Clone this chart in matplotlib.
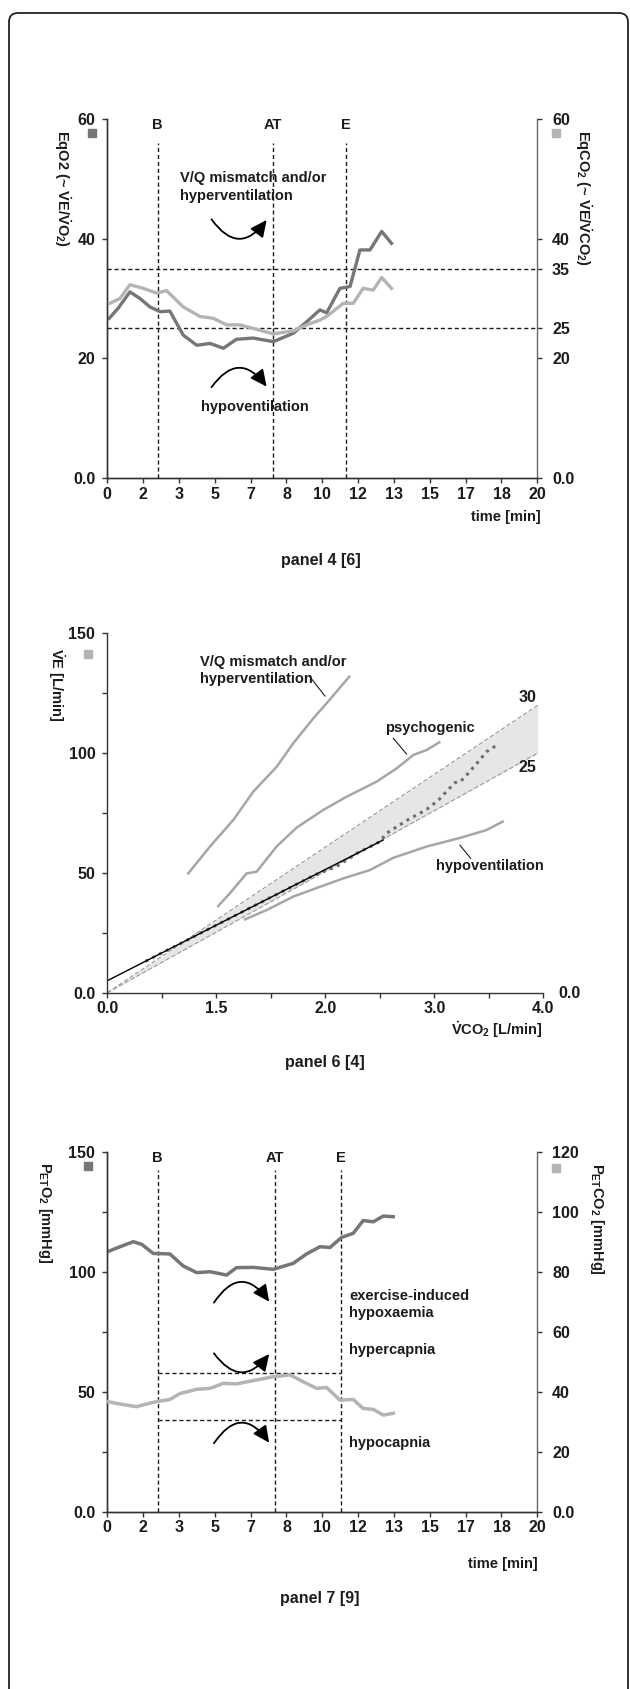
import numpy as np
import matplotlib
matplotlib.use("Agg")
import matplotlib.pyplot as plt
from matplotlib.patches import FancyArrowPatch, FancyBboxPatch
from matplotlib.transforms import IdentityTransform

W, H = 630, 1689
DARK = '#767676'
LIGHT = '#b4b4b4'
BAND = '#e6e6e6'
INK = '#1c1c1c'

NARROW = ['Liberation Sans Narrow', 'Liberation Sans', 'DejaVu Sans']
WIDE = ['Liberation Sans', 'DejaVu Sans']
plt.rcParams['font.family'] = WIDE
plt.rcParams['font.weight'] = 'bold'
plt.rcParams['mathtext.default'] = 'regular'
plt.rcParams['axes.linewidth'] = 1.0
plt.rcParams['axes.edgecolor'] = '#333333'
for k in ['xtick', 'ytick']:
    plt.rcParams[k + '.major.size'] = 3.6
    plt.rcParams[k + '.minor.size'] = 3.6
    plt.rcParams[k + '.major.width'] = 1.0
    plt.rcParams[k + '.minor.width'] = 1.0
    plt.rcParams[k + '.labelsize'] = 11.5
    plt.rcParams[k + '.color'] = '#333333'
    plt.rcParams[k + '.labelcolor'] = INK

# shared time axis
time_ticks = np.linspace(0, 20, 13)
time_labels = ['0', '2', '3', '5', '7', '8', '10', '12', '13', '15', '17', '18', '20']
phase_names = ['B', 'AT', 'E']

# panel 4 [6]: EqO2 / EqCO2 over time
phase_t4 = [2.34, 7.72, 11.09]
t_eqo2 = [0.09, 0.51, 1.05, 1.52, 1.98, 2.45, 2.91, 3.53, 4.16, 4.78, 5.40, 6.01,
          6.79, 7.72, 8.65, 9.27, 9.89, 10.20, 10.82, 11.29, 11.75, 12.22, 12.76, 13.22]
eqo2 = [26.7, 28.4, 31.1, 30.0, 28.6, 27.8, 27.9, 23.9, 22.2, 22.5, 21.7, 23.2,
        23.4, 22.8, 24.2, 26.1, 28.1, 27.6, 31.7, 32.0, 38.1, 38.1, 41.2, 39.2]
t_eqco2 = [0.12, 0.59, 1.05, 1.67, 2.29, 2.76, 3.53, 4.31, 4.93, 5.55, 6.17, 7.10,
           7.72, 8.65, 9.27, 9.89, 10.20, 10.98, 11.44, 11.90, 12.37, 12.76, 13.22]
eqco2 = [29.2, 30.0, 32.3, 31.7, 30.9, 31.3, 28.6, 27.0, 26.7, 25.6, 25.6, 24.7,
         24.1, 24.6, 25.6, 26.4, 27.0, 29.2, 29.2, 31.7, 31.4, 33.5, 31.7]
eq_limits = [35, 25]

# panel 6 [4]: VE vs VCO2
band_x = [0.0, 3.95]
band_hi = [0.0, 120.0]
band_lo = [0.0, 100.0]
reg_x = [0.0, 2.53]
reg_y = [5.0, 63.7]
vco2_pt = [0.35, 0.50, 0.70, 0.90, 1.10, 1.30, 1.50, 1.70, 1.90, 2.10, 2.30, 2.50,
           2.56, 2.78, 2.84, 2.93, 3.04, 3.11, 3.19, 3.24, 3.31, 3.39, 3.48, 3.59]
ve_pt = [13.1, 16.6, 21.2, 25.9, 30.5, 35.2, 39.8, 44.4, 49.1, 52.6, 58.4, 63.0,
         66.5, 72.8, 74.2, 76.5, 80.4, 83.9, 87.7, 88.1, 91.5, 95.7, 100.6, 103.8]
vco2_hyper = [0.743, 0.942, 1.156, 1.339, 1.554, 1.706, 1.890, 2.012, 2.220]
ve_hyper = [49.8, 61.0, 72.1, 83.9, 94.3, 104.1, 114.5, 120.8, 131.9]
vco2_psych = [1.018, 1.125, 1.278, 1.370, 1.553, 1.737, 1.982, 2.196, 2.471, 2.654, 2.807, 2.930, 3.046]
ve_psych = [36.2, 41.5, 49.8, 50.5, 61.0, 68.9, 76.3, 81.8, 88.1, 93.6, 99.2, 101.3, 104.5]
vco2_hypo = [1.263, 1.462, 1.706, 1.951, 2.165, 2.410, 2.624, 2.930, 3.236, 3.480, 3.627]
ve_hypo = [30.6, 34.5, 40.1, 44.2, 47.7, 51.2, 56.3, 61.0, 64.6, 67.9, 71.4]

# panel 7 [9]: PETO2 / PETCO2 over time
phase_t7 = [2.34, 7.80, 10.87]
t_peto2 = [0.0, 0.59, 1.21, 1.60, 2.14, 2.91, 3.53, 4.16, 4.78, 5.55, 6.01, 6.79,
           7.72, 8.65, 9.27, 9.89, 10.36, 10.90, 11.44, 11.90, 12.37, 12.84, 13.30]
peto2 = [108.3, 110.4, 112.5, 111.4, 107.6, 107.4, 102.4, 99.6, 100.0, 98.6, 101.7, 101.8,
         101.0, 103.5, 107.4, 110.4, 110.1, 114.3, 116.0, 121.3, 120.8, 123.2, 122.9]
t_petco2 = [0.0, 0.59, 1.36, 1.83, 2.29, 2.91, 3.38, 4.16, 4.78, 5.40, 6.01, 6.79,
            7.72, 8.50, 9.12, 9.74, 10.20, 10.82, 11.44, 11.90, 12.37, 12.84, 13.30]
petco2 = [36.7, 35.9, 35.0, 35.9, 36.7, 37.4, 39.4, 40.8, 41.1, 42.8, 42.6, 43.7,
          45.0, 45.6, 43.3, 41.1, 41.4, 37.2, 37.4, 34.4, 34.1, 32.2, 32.8]
co2_box = [38.2, 57.6]

fig = plt.figure(figsize=(W / 100, H / 100), dpi=100)

VDOT = r'$\dot{V}$'


def px_box(l, t, r, b):
    return [l / W, 1 - b / H, (r - l) / W, (b - t) / H]


def ftxt(x, y, s, **kw):
    kw.setdefault('family', NARROW)
    kw.setdefault('fontsize', 10.5)
    kw.setdefault('color', INK)
    fig.text(x / W, 1 - y / H, s, **kw)


def vlabel(x, y, s):
    ftxt(x, y, s, rotation=270, ha='center', va='top')


def arc_arrow(ax, p0, p1, rad):
    ax.add_patch(FancyArrowPatch(p0, p1, connectionstyle=f'arc3,rad={rad}',
                                 arrowstyle='-|>,head_length=0.5,head_width=0.24',
                                 mutation_scale=20, lw=1.3, color='black',
                                 shrinkA=0, shrinkB=0))


def note(ax, x, y, s, **kw):
    kw.setdefault('family', NARROW)
    kw.setdefault('fontsize', 10.5)
    kw.setdefault('color', INK)
    ax.text(x, y, s, **kw)


def square(ax, x, y, c):
    ax.plot([x], [y], 's', ms=6, color=c, transform=ax.transAxes, clip_on=False)


def time_axis(ax):
    ax.set_xlim(0, 20)
    ax.set_xticks(time_ticks)
    ax.set_xticklabels(time_labels)
    ax.tick_params(axis='x', pad=2.5)
    ax.tick_params(axis='y', pad=5)
    ax.spines['top'].set_visible(False)


border = FancyBboxPatch((9, -60), 619, H - 13 + 60, boxstyle='round,pad=0,rounding_size=9',
                        transform=IdentityTransform(), fill=False, ec='#222222', lw=1.3)
fig.add_artist(border)

# ---------- panel 4 ----------
ax1 = fig.add_axes(px_box(107.3, 118.7, 537.3, 478.3))
time_axis(ax1)
ax1.set_ylim(0, 60)
ax1.set_yticks([0, 20, 40, 60])
ax1.set_yticklabels(['0.0', '20', '40', '60'])
ax1.spines['right'].set_visible(False)
for lim in eq_limits:
    ax1.axhline(lim, color=INK, lw=1, ls=(0, (3, 2)))
ax1.vlines(phase_t4, 0, 56, colors=INK, lw=1, linestyles=(0, (3, 2)))
for t, n in zip(phase_t4, phase_names):
    note(ax1, t, 59, n, ha='center', va='center')
ax1.plot(t_eqo2, eqo2, color=DARK, lw=2.4, zorder=4)
ax1r = ax1.twinx()
ax1r.set_ylim(0, 60)
ax1r.set_yticks([0, 20, 25, 35, 40, 60])
ax1r.set_yticklabels(['0.0', '20', '25', '35', '40', '60'])
ax1r.spines['top'].set_visible(False)
ax1r.spines['right'].set_color('#666666')
ax1r.tick_params(axis='y', pad=7)
ax1r.plot(t_eqco2, eqco2, color=LIGHT, lw=2.4, zorder=3)
note(ax1, 3.38, 48.6, 'V/Q mismatch and/or\nhyperventilation', ha='left', va='center', linespacing=1.3)
note(ax1, 4.34, 11.85, 'hypoventilation', ha='left', va='center')
arc_arrow(ax1, (4.85, 43.2), (7.41, 43.1), 0.68)
arc_arrow(ax1, (4.85, 15.2), (7.41, 15.3), -0.68)
square(ax1, -0.036, 0.959, DARK)
square(ax1, 1.043, 0.959, LIGHT)
vlabel(62, 130, 'EqO2 (~ ' + VDOT + 'E/' + VDOT + 'O$_2$)')
vlabel(583, 130, 'EqCO$_2$ (~ ' + VDOT + 'E/' + VDOT + 'CO$_2$)')
ftxt(541, 517, 'time [min]', ha='right', va='center')
ftxt(321, 560, 'panel 4 [6]', ha='center', va='center', fontsize=11.5)

# ---------- panel 6 ----------
ax2 = fig.add_axes(px_box(107.3, 633.3, 543.3, 992.7))
ax2.set_xlim(0, 4)
ax2.set_ylim(0, 150)
ax2.spines['top'].set_visible(False)
ax2.spines['right'].set_visible(False)
ax2.set_xticks([0, 1, 2, 3, 4])
ax2.set_xticklabels(['0.0', '1.5', '2.0', '3.0', '4.0'])
ax2.set_xticks([0.5, 1.5, 2.5, 3.5], minor=True)
ax2.set_yticks([0, 50, 100, 150])
ax2.set_yticklabels(['0.0', '50', '100', '150'])
ax2.set_yticks([25, 75, 125], minor=True)
ax2.tick_params(axis='x', pad=2.5)
ax2.tick_params(axis='y', pad=5)
ax2.fill_between(band_x, band_lo, band_hi, color=BAND, lw=0)
ax2.plot(band_x, band_hi, color='#9a9a9a', lw=0.8, ls=(0, (4, 2)))
ax2.plot(band_x, band_lo, color='#9a9a9a', lw=0.8, ls=(0, (4, 2)))
ax2.plot(vco2_pt, ve_pt, color='#6e6e6e', lw=2.2, ls=(0, (1, 1.5)))
ax2.plot(reg_x, reg_y, color='black', lw=1.0)
ax2.plot(vco2_hyper, ve_hyper, color='#a6a6a6', lw=1.8)
ax2.plot(vco2_psych, ve_psych, color='#a6a6a6', lw=1.8)
ax2.plot(vco2_hypo, ve_hypo, color='#a6a6a6', lw=1.8)
note(ax2, 0.85, 134.5, 'V/Q mismatch and/or\nhyperventilation', ha='left', va='center', linespacing=1.3)
ax2.plot([1.853, 1.997], [132.2, 123.8], color=INK, lw=0.8)
note(ax2, 2.547, 110.6, 'psychogenic', ha='left', va='center')
ax2.plot([2.624, 2.746], [106.2, 99.6], color=INK, lw=0.8)
note(ax2, 3.015, 53.0, 'hypoventilation', ha='left', va='center')
ax2.plot([3.235, 3.333], [61.6, 56.1], color=INK, lw=0.8)
note(ax2, 3.94, 123.1, '30', ha='right', va='center', fontsize=11.5, family=WIDE)
note(ax2, 3.94, 93.9, '25', ha='right', va='center', fontsize=11.5, family=WIDE)
square(ax2, -0.0436, 0.9416, LIGHT)
ftxt(558, 993, '0.0', ha='left', va='center', fontsize=11.5, family=WIDE)
vlabel(56, 648, VDOT + 'E [L/min]')
ftxt(543, 1030, VDOT + 'CO$_2$ [L/min]', ha='right', va='center')
ftxt(325, 1062, 'panel 6 [4]', ha='center', va='center', fontsize=11.5)

# ---------- panel 7 ----------
ax3 = fig.add_axes(px_box(107.3, 1151.7, 537.3, 1511.7))
time_axis(ax3)
ax3.set_ylim(0, 150)
ax3.set_yticks([0, 50, 100, 150])
ax3.set_yticklabels(['0.0', '50', '100', '150'])
ax3.set_yticks([25, 75, 125], minor=True)
ax3.spines['right'].set_visible(False)
ax3.vlines(phase_t7, 0, 142.4, colors=INK, lw=1, linestyles=(0, (3, 2)))
for t, n in zip(phase_t7, phase_names):
    note(ax3, t, 147.2, n, ha='center', va='center')
ax3.plot(t_peto2, peto2, color=DARK, lw=2.5, zorder=4)
ax3r = ax3.twinx()
ax3r.set_ylim(0, 120)
ax3r.set_yticks([0, 20, 40, 60, 80, 100, 120])
ax3r.set_yticklabels(['0.0', '20', '40', '60', '80', '100', '120'])
ax3r.spines['top'].set_visible(False)
ax3r.spines['right'].set_color('#666666')
ax3r.tick_params(axis='y', pad=7)
ax3r.plot(t_petco2, petco2, color=LIGHT, lw=2.5, zorder=3)
ax3.hlines(co2_box, phase_t7[0], phase_t7[2], colors=INK, lw=1, linestyles=(0, (3, 2)))
arc_arrow(ax3, (4.96, 87.1), (7.53, 87.5), -0.72)
arc_arrow(ax3, (4.96, 66.0), (7.53, 65.7), 0.66)
arc_arrow(ax3, (4.96, 28.5), (7.53, 28.75), -0.72)
note(ax3, 11.26, 86.4, 'exercise-induced\nhypoxaemia', ha='left', va='center', linespacing=1.3)
note(ax3, 11.26, 67.5, 'hypercapnia', ha='left', va='center')
note(ax3, 11.26, 28.6, 'hypocapnia', ha='left', va='center')
square(ax3, -0.044, 0.960, DARK)
square(ax3, 1.043, 0.956, LIGHT)
vlabel(45, 1162, 'P$_{ET}$O$_2$ [mmHg]')
vlabel(597, 1163, 'P$_{ET}$CO$_2$ [mmHg]')
ftxt(538, 1564, 'time [min]', ha='right', va='center')
ftxt(320, 1598, 'panel 7 [9]', ha='center', va='center', fontsize=11.5)

fig.savefig('out.png', dpi=100)
